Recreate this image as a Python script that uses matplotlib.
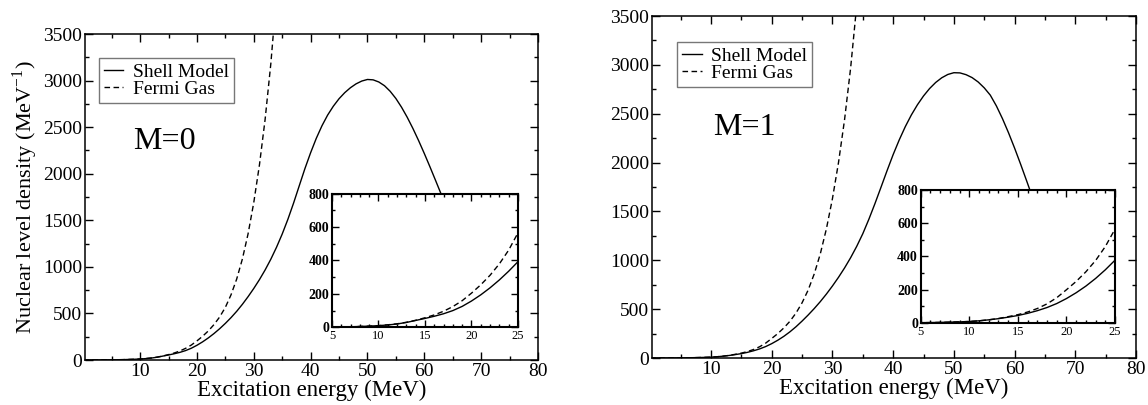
import matplotlib
matplotlib.use("Agg")
import matplotlib.pyplot as plt
from matplotlib.ticker import MultipleLocator

plt.rcParams['font.family'] = ['Liberation Serif', 'DejaVu Serif']
plt.rcParams['mathtext.fontset'] = 'custom'
plt.rcParams['mathtext.rm'] = 'Liberation Serif'

# Excitation energy grid (MeV), 1 MeV steps
energy = list(range(0, 66))
energy_fg = list(range(0, 35))

# M=0
shell_m0 = [0, 0, 0.5, 1, 1.5, 2, 3, 4, 6, 8,
            11, 15, 21, 30, 42, 54, 67, 82, 101, 126,
            158, 195, 237, 284, 336, 393, 455, 523, 598, 680,
            768, 863, 967, 1082, 1210, 1352, 1510, 1684, 1870, 2055,
            2225, 2380, 2515, 2630, 2725, 2805, 2870, 2923, 2965, 2995,
            3012, 3008, 2985, 2945, 2885, 2808, 2714, 2606, 2486, 2356,
            2218, 2074, 1926, 1776, 1625, 1473]
fermi_m0 = [0, 0, 0.5, 1, 1.5, 2, 3, 4, 6, 8,
            11, 16, 22, 31, 43, 58, 75, 97, 125, 160,
            205, 255, 312, 380, 462, 565, 700, 870, 1085, 1355,
            1690, 2095, 2585, 3180, 3910]

# M=1
shell_m1 = [0, 0, 0.5, 1, 1.5, 2, 2.5, 3.5, 5, 6.5,
            9, 13, 19, 26, 35, 45, 58, 74, 93, 117,
            147, 182, 222, 268, 320, 378, 440, 506, 577, 654,
            737, 826, 922, 1027, 1143, 1272, 1420, 1580, 1748, 1918,
            2082, 2232, 2368, 2488, 2592, 2682, 2758, 2820, 2868, 2902,
            2920, 2918, 2900, 2870, 2825, 2765, 2690, 2580, 2450, 2305,
            2148, 1982, 1810, 1635, 1458, 1280]
fermi_m1 = [0, 0, 0.5, 1, 1.5, 2, 2.5, 3.5, 5, 7,
            9, 13, 19, 27, 38, 50, 66, 87, 115, 152,
            200, 250, 308, 376, 460, 565, 695, 860, 1065, 1320,
            1630, 2000, 2440, 2970, 3610]

fig = plt.figure(figsize=(11.48, 4.05), dpi=100)

def main_panel(rect, sm, fg, label, legend_xy, text_xy, ylabel=True):
    ax = fig.add_axes(rect)
    ax.plot(energy, sm, 'k-', lw=1.0, label='Shell Model')
    ax.plot(energy_fg, fg, 'k--', lw=1.0, dashes=(4, 2.5), label='Fermi Gas')
    ax.set_xlim(0.3, 80)
    ax.set_ylim(0, 3500)
    ax.xaxis.set_major_locator(MultipleLocator(10))
    ax.xaxis.set_minor_locator(MultipleLocator(5))
    ax.yaxis.set_major_locator(MultipleLocator(500))
    ax.yaxis.set_minor_locator(MultipleLocator(250))
    ax.tick_params(which='both', direction='in', top=True, right=True, labelsize=14, pad=2)
    ax.tick_params(which='major', length=6, width=1)
    ax.tick_params(which='minor', length=3, width=1)
    for s in ax.spines.values():
        s.set_linewidth(1.1)
    ax.set_xlabel('Excitation energy (MeV)', fontsize=16.5, labelpad=0)
    if ylabel:
        ax.set_ylabel('Nuclear level density (MeV$^{\\mathregular{-1}}$)', fontsize=16, labelpad=2)
    leg = ax.legend(loc='upper left', bbox_to_anchor=legend_xy, borderaxespad=0,
                    fontsize=14, frameon=True, fancybox=False, handlelength=1.0,
                    handletextpad=0.5, labelspacing=0.0, borderpad=0.25)
    leg.get_frame().set_edgecolor('#555555')
    leg.get_frame().set_linewidth(1.0)
    ax.text(text_xy[0], text_xy[1], label, transform=ax.transAxes, fontsize=23,
            va='center', ha='left')
    return ax

def inset_panel(rect, sm, fg):
    ax = fig.add_axes(rect)
    ax.plot(energy, sm, 'k-', lw=1.0)
    ax.plot(energy_fg, fg, 'k--', lw=1.0, dashes=(4, 2.5))
    ax.set_xlim(5, 25)
    ax.set_ylim(0, 800)
    ax.xaxis.set_major_locator(MultipleLocator(5))
    ax.xaxis.set_minor_locator(MultipleLocator(1))
    ax.yaxis.set_major_locator(MultipleLocator(200))
    ax.yaxis.set_minor_locator(MultipleLocator(100))
    ax.tick_params(which='both', direction='in', top=True, right=True, pad=2)
    ax.tick_params(which='major', length=5, width=1)
    ax.tick_params(which='minor', length=2.5, width=1)
    ax.tick_params(axis='x', labelsize=9)
    ax.tick_params(axis='y', labelsize=10)
    for t in ax.get_yticklabels():
        t.set_fontweight('bold')
    for s in ax.spines.values():
        s.set_linewidth(1.5)
    return ax

main_panel([0.0740, 0.1111, 0.3946, 0.8049], shell_m0, fermi_m0, 'M=0',
           (0.031, 0.926), (0.106, 0.669))
inset_panel([0.2892, 0.1914, 0.1620, 0.3308], shell_m0, fermi_m0)

main_panel([0.5680, 0.1160, 0.4216, 0.8444], shell_m1, fermi_m1, 'M=1',
           (0.052, 0.924), (0.126, 0.675), ylabel=False)
inset_panel([0.8020, 0.2025, 0.1693, 0.3284], shell_m1, fermi_m1)

fig.savefig('out.png', dpi=100)
